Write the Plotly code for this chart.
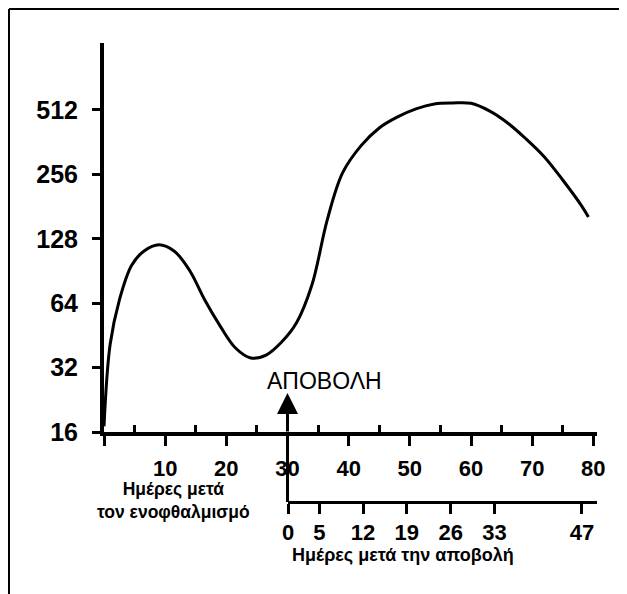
import math
import plotly.graph_objects as go

# ---- data ----
days = [0, 1, 2.5, 4.5, 6.5, 9, 11.5, 14, 16.5, 19, 21.5, 24, 26.5, 29, 31.5,
        34, 36.5, 39, 42, 45, 48, 51, 54, 57, 60, 63, 66, 69, 72, 75, 78, 79.2]
titer = [17, 41, 66, 96, 112, 120, 112, 91, 66, 50, 39.5, 35.5, 36.6, 42, 52,
         78, 157, 260, 348, 422, 475, 518, 546, 552, 550, 507, 445, 375, 309, 241, 184, 162]

y_ticks = [16, 32, 64, 128, 256, 512]
x_ticks = list(range(0, 81, 5))
x_ticktext = [str(v) if (v % 10 == 0 and v > 0) else "" for v in x_ticks]
x_minor = list(range(5, 80, 10))

event_day = 30
event_label = "ΑΠΟΒΟΛΗ"
post_ticks = [0, 5, 12, 19, 26, 33, 47]

title_x1 = "Ημέρες μετά<br>τον ενοφθαλμισμό"
title_x2 = "Ημέρες μετά την αποβολή"

FONT = "Liberation Sans, Arial, sans-serif"

fig = go.Figure()
fig.add_trace(go.Scatter(
    x=days, y=titer, mode="lines",
    line=dict(color="black", width=3, shape="spline", smoothing=1.0),
    showlegend=False, hoverinfo="skip", cliponaxis=False))
# invisible trace to attach the second x axis
fig.add_trace(go.Scatter(x=[post_ticks[0]], y=[y_ticks[0]], xaxis="x2", yaxis="y",
                         mode="markers", marker=dict(opacity=0), showlegend=False,
                         hoverinfo="skip"))

OFF = 8                      # page body margin
W, H = 627 - OFF, 594 - OFF
# plot area in page pixels: 104..597 x 43..520
L = 104 - OFF
T = 43 - OFF
R = W - (597 - OFF)
B = H - (520 - OFF)
pw = W - L - R
ph = H - T - B

def px2paper_x(px):
    return (px - OFF - L) / pw

def px2paper_y(py):
    return (H - B - (py - OFF)) / ph

ydom0 = px2paper_y(432)
pos2 = px2paper_y(502)

fig.update_layout(
    width=W, height=H,
    margin=dict(l=L, r=R, t=T, b=B, autoexpand=False),
    paper_bgcolor="white", plot_bgcolor="rgba(0,0,0,0)",
    showlegend=False,
    xaxis=dict(
        domain=[0, 1], range=[0, 80.6], anchor="y", automargin=False,
        showgrid=False, zeroline=False,
        showline=True, linecolor="black", linewidth=4,
        tickmode="array", tickvals=x_ticks, ticktext=x_ticktext,
        ticks="outside", ticklen=10, tickwidth=3, tickcolor="black",
        ticklabelstandoff=4,
        tickfont=dict(family=FONT, size=22, color="black", weight="bold"),
        minor=dict(tickmode="array", tickvals=x_minor, ticks="inside",
                   ticklen=7, tickwidth=3, tickcolor="black", showgrid=False),
    ),
    xaxis2=dict(
        domain=[px2paper_x(288), 1], range=[0, 49.4],
        anchor="free", position=pos2, automargin=False,
        showgrid=False, zeroline=False,
        showline=True, linecolor="black", linewidth=3,
        tickmode="array", tickvals=post_ticks,
        ticks="outside", ticklen=10, tickwidth=3, tickcolor="black",
        ticklabelstandoff=0,
        tickfont=dict(family=FONT, size=22, color="black", weight="bold"),
    ),
    yaxis=dict(
        type="log", domain=[ydom0, 1], automargin=False,
        range=[math.log10(16), 10.04 * math.log10(2)],
        anchor="x",
        showgrid=False, zeroline=False,
        showline=True, linecolor="black", linewidth=4,
        tickmode="array", tickvals=y_ticks, ticktext=[str(v) for v in y_ticks],
        ticks="outside", ticklen=8, tickwidth=3, tickcolor="black",
        ticklabelstandoff=9,
        tickfont=dict(family=FONT, size=25, color="black", weight="bold"),
    ),
)

# outer frame (left and top edges)
fig.add_shape(type="line", xref="paper", yref="paper",
              x0=px2paper_x(9), x1=px2paper_x(9), y0=px2paper_y(9), y1=px2paper_y(610),
              line=dict(color="black", width=2))
fig.add_shape(type="line", xref="paper", yref="paper",
              x0=px2paper_x(9), x1=px2paper_x(640), y0=px2paper_y(9), y1=px2paper_y(9),
              line=dict(color="black", width=2))

# vertical line linking the two time axes at the event day
fig.add_shape(type="line", xref="x", yref="paper",
              x0=event_day, x1=event_day, y0=pos2, y1=ydom0,
              line=dict(color="black", width=3))
# arrow marking the event
fig.add_annotation(x=event_day, y=px2paper_y(393), xref="x", yref="paper",
                   ax=0, ay=40, axref="pixel", ayref="pixel",
                   showarrow=True, arrowhead=2, arrowsize=1.4, arrowwidth=3,
                   arrowcolor="black", text="")
fig.add_annotation(x=px2paper_x(265), y=px2paper_y(381), xref="paper", yref="paper",
                   text=event_label, showarrow=False, xanchor="left", yanchor="middle",
                   font=dict(family=FONT, size=23, color="black"))

# axis titles
fig.add_annotation(x=px2paper_x(173), y=px2paper_y(500), xref="paper", yref="paper",
                   text=title_x1, showarrow=False, xanchor="center", yanchor="middle",
                   align="center",
                   font=dict(family=FONT, size=17.5, color="black", weight="bold"))
fig.add_annotation(x=px2paper_x(403), y=px2paper_y(555), xref="paper", yref="paper",
                   text=title_x2, showarrow=False, xanchor="center", yanchor="middle",
                   font=dict(family=FONT, size=18, color="black", weight="bold"))

fig.write_html("out.html")
